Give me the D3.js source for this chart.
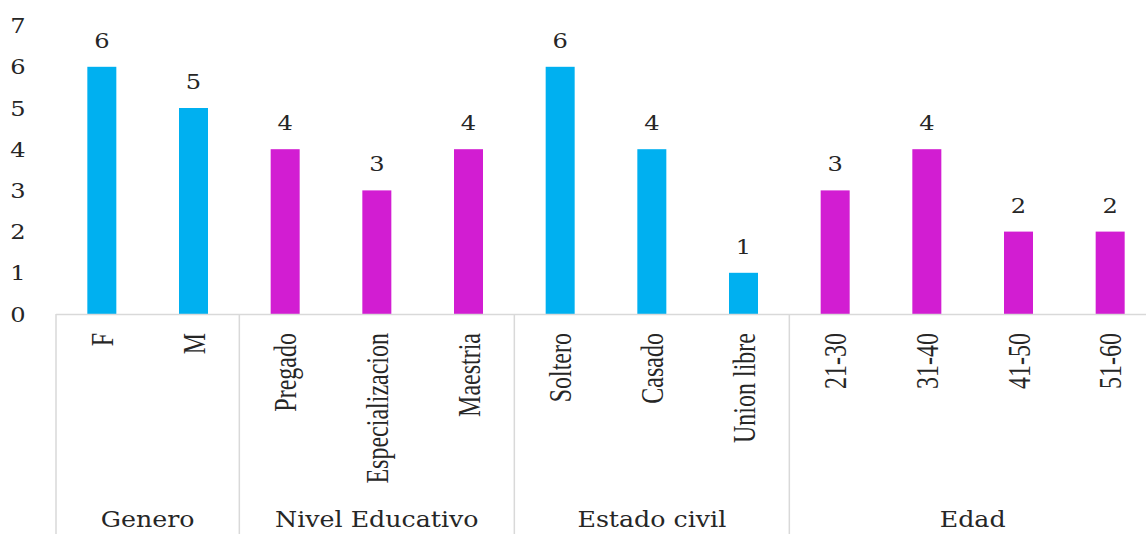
<!DOCTYPE html>
<html>
<head>
<meta charset="utf-8">
<script src="https://cdn.jsdelivr.net/npm/d3@7"></script>
<style>
  body { margin: 0; background: #fff; }
  svg { display: block; }
</style>
</head>
<body>
<div class="chart"></div>
<script>
// data
var groups = ["Genero", "Nivel Educativo", "Estado civil", "Edad"];
var groupSizes = [2, 3, 3, 4];
var categories = ["F", "M", "Pregado", "Especializacion", "Maestria",
                  "Soltero", "Casado", "Union libre",
                  "21-30", "31-40", "41-50", "51-60"];
var values = [6, 5, 4, 3, 4, 6, 4, 1, 3, 4, 2, 2];
var yTicks = [0, 1, 2, 3, 4, 5, 6, 7];
var groupColors = ["#00b0f0", "#d21dd2", "#00b0f0", "#d21dd2"];

var svgWidth = 1146, svgHeight = 534;
var stretch = 1.15;   // the original looks widened horizontally

var svg = d3.select(".chart").append("svg")
  .attr("width", svgWidth)
  .attr("height", svgHeight);

// which group each category is in
var groupOf = [];
groupSizes.forEach(function(n, g) {
  for (var i = 0; i < n; i++) groupOf.push(g);
});

// scales
var xScale = d3.scaleBand()
  .domain(categories)
  .range([56, 1156])
  .padding(0);

var yScale = d3.scaleLinear()
  .domain([0, 7])
  .range([314, 25.6]);

var barWidth = 29;

// y labels (no axis line)
svg.append("g").selectAll("text")
  .data(yTicks)
  .enter()
  .append("text")
  .attr("transform", d => `translate(18, ${yScale(d) + 7.5}) scale(${stretch},1)`)
  .attr("text-anchor", "middle")
  .style("font-family", "DejaVu Serif")
  .style("font-size", "21px")
  .style("fill", "#262626")
  .text(d => d);

// bars
svg.append("g").selectAll("rect")
  .data(values)
  .enter()
  .append("rect")
  .attr("x", (d, i) => xScale(categories[i]) + xScale.bandwidth() / 2 - barWidth / 2)
  .attr("y", d => yScale(d))
  .attr("width", barWidth)
  .attr("height", d => yScale(0) - yScale(d))
  .attr("fill", (d, i) => groupColors[groupOf[i]]);

// value labels
svg.append("g").selectAll("text")
  .data(values)
  .enter()
  .append("text")
  .attr("transform", (d, i) => `translate(${xScale(categories[i]) + xScale.bandwidth() / 2}, ${yScale(d) - 19}) scale(${stretch},1)`)
  .attr("text-anchor", "middle")
  .style("font-family", "DejaVu Serif")
  .style("font-size", "21px")
  .style("fill", "#262626")
  .text(d => d);

// category axis line
var axisColor = "#d9d9d9";
svg.append("line")
  .attr("x1", xScale.range()[0])
  .attr("x2", xScale.range()[1])
  .attr("y1", yScale(0) + 0.5)
  .attr("y2", yScale(0) + 0.5)
  .attr("stroke", axisColor)
  .attr("stroke-width", 1.5);

// group separators
var bounds = [0];
groupSizes.forEach(function(n, g) { bounds.push(bounds[g] + n); });
svg.append("g").selectAll("line")
  .data(bounds)
  .enter()
  .append("line")
  .attr("x1", d => xScale.range()[0] + d * xScale.bandwidth())
  .attr("x2", d => xScale.range()[0] + d * xScale.bandwidth())
  .attr("y1", yScale(0))
  .attr("y2", svgHeight)
  .attr("stroke", axisColor)
  .attr("stroke-width", 1.5);

// rotated category labels
svg.append("g").selectAll("text")
  .data(categories)
  .enter()
  .append("text")
  .attr("transform", d => `translate(${xScale(d) + xScale.bandwidth() / 2 + 11}, 333) scale(1.3,1) rotate(-90)`)
  .attr("text-anchor", "end")
  .style("font-family", "Liberation Serif")
  .style("font-size", "24px")
  .style("fill", "#262626")
  .text(d => d);

// group labels
svg.append("g").selectAll("text")
  .data(groups)
  .enter()
  .append("text")
  .attr("transform", function(d, g) {
    var x0 = xScale.range()[0] + bounds[g] * xScale.bandwidth();
    var x1 = xScale.range()[0] + bounds[g + 1] * xScale.bandwidth();
    return `translate(${(x0 + x1) / 2}, 527) scale(${stretch},1)`;
  })
  .attr("text-anchor", "middle")
  .style("font-family", "DejaVu Serif")
  .style("font-size", "22px")
  .style("fill", "#262626")
  .text(d => d);
</script>
</body>
</html>
